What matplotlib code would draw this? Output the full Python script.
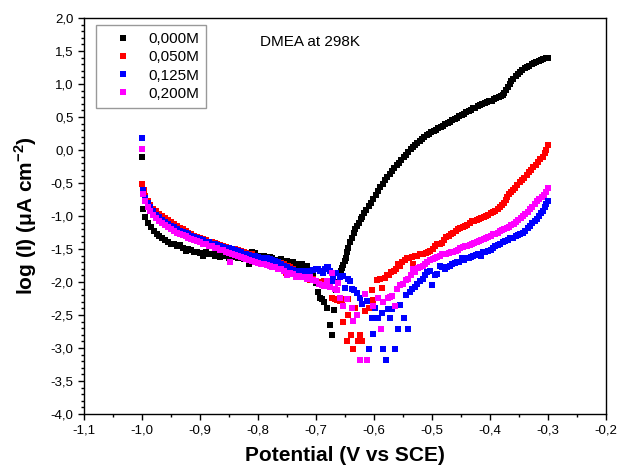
import matplotlib
matplotlib.use("Agg")
import matplotlib.pyplot as plt
from matplotlib.ticker import MultipleLocator, FuncFormatter

plt.rcParams['font.family'] = ['Liberation Sans', 'DejaVu Sans']
plt.rcParams['mathtext.fontset'] = 'custom'
plt.rcParams['mathtext.rm'] = 'Liberation Sans:bold'
plt.rcParams['mathtext.bf'] = 'Liberation Sans:bold'

labels = ["0,000M", "0,050M", "0,125M", "0,200M"]
colors = ["#000000", "#FF0000", "#0000FF", "#FF00FF"]

# 0,000M
x_000 = [-1.000, -0.998, -0.995, -0.990, -0.985, -0.980, -0.975, -0.970, -0.965, -0.960,
         -0.955, -0.950, -0.945, -0.940, -0.935, -0.930, -0.925, -0.920, -0.915, -0.910,
         -0.905, -0.900, -0.895, -0.890, -0.885, -0.880, -0.875, -0.870, -0.865, -0.860,
         -0.855, -0.850, -0.845, -0.840, -0.835, -0.830, -0.825, -0.820, -0.815, -0.810,
         -0.805, -0.800, -0.795, -0.790, -0.785, -0.780, -0.775, -0.770, -0.765, -0.760,
         -0.755, -0.750, -0.745, -0.740, -0.735, -0.730, -0.725, -0.720, -0.715, -0.710,
         -0.705, -0.700, -0.697, -0.693, -0.690, -0.686, -0.681, -0.676, -0.672, -0.669,
         -0.666, -0.662, -0.659, -0.657, -0.655, -0.653, -0.650, -0.648, -0.646, -0.644,
         -0.641, -0.638, -0.635, -0.632, -0.629, -0.626, -0.623, -0.620, -0.617, -0.613,
         -0.609, -0.605, -0.601, -0.597, -0.593, -0.589, -0.585, -0.581, -0.577, -0.573,
         -0.569, -0.565, -0.561, -0.557, -0.553, -0.549, -0.545, -0.541, -0.537, -0.533,
         -0.529, -0.525, -0.521, -0.517, -0.513, -0.509, -0.505, -0.501, -0.497, -0.493,
         -0.489, -0.485, -0.481, -0.477, -0.473, -0.469, -0.465, -0.461, -0.457, -0.453,
         -0.449, -0.445, -0.441, -0.437, -0.433, -0.429, -0.425, -0.421, -0.417, -0.413,
         -0.409, -0.405, -0.401, -0.397, -0.393, -0.389, -0.385, -0.381, -0.378, -0.375,
         -0.372, -0.369, -0.366, -0.363, -0.360, -0.356, -0.352, -0.348, -0.344, -0.340,
         -0.336, -0.332, -0.328, -0.324, -0.320, -0.316, -0.312, -0.308, -0.304, -0.300]
y_000 = [-0.11, -0.89, -1.02, -1.10, -1.17, -1.22, -1.27, -1.31, -1.34, -1.37,
         -1.40, -1.42, -1.43, -1.45, -1.44, -1.48, -1.53, -1.50, -1.51, -1.54,
         -1.55, -1.56, -1.60, -1.55, -1.58, -1.57, -1.60, -1.58, -1.62, -1.59,
         -1.61, -1.63, -1.60, -1.62, -1.64, -1.61, -1.65, -1.62, -1.72, -1.55,
         -1.56, -1.60, -1.63, -1.61, -1.65, -1.62, -1.64, -1.66, -1.68, -1.65,
         -1.70, -1.68, -1.72, -1.70, -1.73, -1.74, -1.72, -1.76, -1.75, -1.82,
         -1.90, -2.02, -2.15, -2.24, -2.26, -2.30, -2.39, -2.65, -2.80, -2.42,
         -2.12, -2.00, -1.90, -1.84, -1.79, -1.74, -1.68, -1.63, -1.55, -1.48,
         -1.40, -1.33, -1.26, -1.20, -1.15, -1.10, -1.05, -1.01, -0.96, -0.91,
         -0.85, -0.80, -0.74, -0.68, -0.62, -0.56, -0.51, -0.46, -0.41, -0.37,
         -0.32, -0.27, -0.23, -0.19, -0.15, -0.11, -0.07, -0.03, 0.01, 0.05,
         0.08, 0.11, 0.14, 0.17, 0.19, 0.22, 0.24, 0.27, 0.29, 0.31,
         0.33, 0.35, 0.37, 0.39, 0.41, 0.43, 0.45, 0.47, 0.49, 0.51,
         0.53, 0.55, 0.57, 0.59, 0.61, 0.63, 0.64, 0.66, 0.68, 0.69,
         0.71, 0.72, 0.74, 0.75, 0.77, 0.79, 0.80, 0.82, 0.84, 0.87,
         0.91, 0.96, 1.00, 1.04, 1.08, 1.12, 1.15, 1.18, 1.21, 1.24,
         1.26, 1.28, 1.30, 1.32, 1.34, 1.35, 1.37, 1.38, 1.39, 1.40]

# 0,050M
x_050 = [-1.000, -0.997, -0.994, -0.990, -0.986, -0.981, -0.976, -0.970, -0.965, -0.960,
         -0.955, -0.950, -0.945, -0.940, -0.935, -0.930, -0.925, -0.920, -0.915, -0.910,
         -0.905, -0.900, -0.895, -0.890, -0.885, -0.880, -0.875, -0.870, -0.865, -0.860,
         -0.855, -0.850, -0.845, -0.840, -0.835, -0.830, -0.825, -0.820, -0.815, -0.810,
         -0.805, -0.800, -0.795, -0.790, -0.785, -0.780, -0.775, -0.770, -0.765, -0.760,
         -0.755, -0.752, -0.748, -0.745, -0.740, -0.735, -0.730, -0.725, -0.720, -0.715,
         -0.710, -0.705, -0.700, -0.695, -0.690, -0.686, -0.681, -0.676, -0.672, -0.668,
         -0.664, -0.659, -0.655, -0.650, -0.645, -0.653, -0.647, -0.645, -0.640, -0.636,
         -0.633, -0.628, -0.624, -0.621, -0.616, -0.609, -0.603, -0.602, -0.595, -0.590,
         -0.586, -0.581, -0.578, -0.574, -0.570, -0.566, -0.562, -0.559, -0.555, -0.551,
         -0.547, -0.543, -0.539, -0.534, -0.533, -0.530, -0.526, -0.521, -0.516, -0.511,
         -0.507, -0.503, -0.499, -0.495, -0.491, -0.487, -0.483, -0.479, -0.475, -0.471,
         -0.467, -0.463, -0.459, -0.455, -0.451, -0.447, -0.443, -0.439, -0.435, -0.431,
         -0.427, -0.423, -0.419, -0.415, -0.411, -0.407, -0.403, -0.399, -0.395, -0.391,
         -0.387, -0.383, -0.379, -0.376, -0.373, -0.370, -0.367, -0.364, -0.361, -0.357,
         -0.353, -0.349, -0.345, -0.341, -0.337, -0.333, -0.329, -0.325, -0.321, -0.317,
         -0.313, -0.309, -0.306, -0.303, -0.300]
y_050 = [-0.52, -0.60, -0.70, -0.77, -0.83, -0.89, -0.93, -0.97, -1.00, -1.03,
         -1.06, -1.09, -1.12, -1.15, -1.18, -1.20, -1.23, -1.26, -1.28, -1.30,
         -1.32, -1.34, -1.35, -1.37, -1.39, -1.40, -1.41, -1.43, -1.44, -1.46,
         -1.47, -1.49, -1.50, -1.50, -1.52, -1.53, -1.55, -1.56, -1.58, -1.58,
         -1.60, -1.62, -1.63, -1.65, -1.64, -1.66, -1.67, -1.68, -1.69, -1.71,
         -1.73, -1.86, -1.76, -1.78, -1.80, -1.86, -1.84, -1.87, -1.89, -1.92,
         -1.97, -1.95, -1.99, -2.01, -2.00, -1.98, -2.03, -1.98, -2.24, -2.26,
         -2.28, -2.29, -2.27, -2.26, -2.26, -2.60, -2.89, -2.50, -2.80, -3.01,
         -2.39, -2.89, -2.80, -2.89, -2.44, -2.39, -2.12, -2.27, -1.97, -1.96,
         -2.09, -1.94, -1.89, -1.89, -1.85, -1.83, -1.80, -1.72, -1.76, -1.70,
         -1.67, -1.63, -1.64, -1.62, -1.72, -1.61, -1.60, -1.58, -1.57, -1.56,
         -1.55, -1.53, -1.50, -1.46, -1.43, -1.42, -1.41, -1.37, -1.32, -1.30,
         -1.28, -1.25, -1.22, -1.20, -1.18, -1.17, -1.15, -1.13, -1.10, -1.08,
         -1.07, -1.06, -1.04, -1.03, -1.01, -1.00, -0.98, -0.96, -0.94, -0.92,
         -0.90, -0.87, -0.84, -0.80, -0.76, -0.71, -0.67, -0.63, -0.60, -0.57,
         -0.53, -0.49, -0.46, -0.42, -0.38, -0.34, -0.30, -0.26, -0.22, -0.18,
         -0.14, -0.10, -0.05, 0.00, 0.07]

# 0,125M
x_125 = [-1.000, -0.998, -0.994, -0.990, -0.986, -0.981, -0.976, -0.970, -0.965, -0.960,
         -0.955, -0.950, -0.945, -0.940, -0.935, -0.930, -0.925, -0.920, -0.915, -0.910,
         -0.905, -0.900, -0.895, -0.890, -0.885, -0.880, -0.875, -0.870, -0.865, -0.860,
         -0.855, -0.850, -0.845, -0.840, -0.835, -0.830, -0.826, -0.820, -0.815, -0.810,
         -0.805, -0.800, -0.795, -0.790, -0.785, -0.779, -0.775, -0.770, -0.765, -0.760,
         -0.755, -0.750, -0.745, -0.740, -0.735, -0.730, -0.725, -0.720, -0.715, -0.710,
         -0.705, -0.700, -0.697, -0.693, -0.688, -0.684, -0.681, -0.679, -0.675, -0.671,
         -0.671, -0.665, -0.659, -0.655, -0.653, -0.650, -0.645, -0.641, -0.638, -0.634,
         -0.629, -0.624, -0.621, -0.612, -0.609, -0.603, -0.602, -0.598, -0.593, -0.586,
         -0.584, -0.579, -0.576, -0.572, -0.569, -0.564, -0.559, -0.555, -0.548, -0.541,
         -0.545, -0.538, -0.534, -0.530, -0.526, -0.521, -0.516, -0.512, -0.509, -0.503,
         -0.500, -0.495, -0.491, -0.486, -0.482, -0.478, -0.474, -0.469, -0.465, -0.461,
         -0.457, -0.453, -0.449, -0.445, -0.441, -0.437, -0.433, -0.429, -0.424, -0.420,
         -0.416, -0.412, -0.408, -0.403, -0.399, -0.395, -0.391, -0.386, -0.382, -0.378,
         -0.374, -0.369, -0.365, -0.360, -0.356, -0.352, -0.348, -0.343, -0.339, -0.335,
         -0.331, -0.327, -0.323, -0.319, -0.315, -0.312, -0.309, -0.306, -0.303, -0.300]
y_125 = [0.18, -0.61, -0.72, -0.80, -0.87, -0.93, -0.98, -1.02, -1.06, -1.09,
         -1.12, -1.15, -1.17, -1.20, -1.22, -1.24, -1.26, -1.28, -1.30, -1.32,
         -1.33, -1.35, -1.37, -1.39, -1.40, -1.42, -1.43, -1.44, -1.46, -1.47,
         -1.48, -1.49, -1.50, -1.52, -1.53, -1.55, -1.57, -1.58, -1.59, -1.60,
         -1.61, -1.62, -1.63, -1.64, -1.64, -1.65, -1.67, -1.68, -1.70, -1.72,
         -1.75, -1.78, -1.80, -1.82, -1.84, -1.86, -1.84, -1.83, -1.84, -1.86,
         -1.82, -1.81, -1.80, -1.83, -1.86, -1.80, -1.78, -1.78, -1.84, -1.91,
         -1.98, -1.87, -1.92, -1.91, -1.91, -2.09, -1.95, -1.98, -2.10, -2.12,
         -2.16, -2.24, -2.33, -2.29, -3.01, -2.54, -2.79, -2.39, -2.54, -2.47,
         -3.01, -3.18, -2.41, -2.54, -2.41, -3.01, -2.71, -2.35, -2.54, -2.71,
         -2.20, -2.15, -2.11, -2.07, -2.03, -1.98, -1.95, -1.90, -1.85, -1.83,
         -2.05, -1.90, -1.88, -1.75, -1.78, -1.80, -1.78, -1.75, -1.73, -1.71,
         -1.70, -1.69, -1.63, -1.66, -1.64, -1.63, -1.62, -1.60, -1.59, -1.58,
         -1.60, -1.55, -1.54, -1.53, -1.51, -1.49, -1.46, -1.44, -1.42, -1.40,
         -1.38, -1.36, -1.34, -1.33, -1.31, -1.29, -1.27, -1.25, -1.22, -1.18,
         -1.15, -1.11, -1.07, -1.04, -1.00, -0.96, -0.92, -0.87, -0.82, -0.77]

# 0,200M
x_200 = [-1.000, -0.998, -0.994, -0.990, -0.986, -0.981, -0.976, -0.970, -0.965, -0.960,
         -0.955, -0.950, -0.945, -0.940, -0.935, -0.930, -0.925, -0.920, -0.915, -0.910,
         -0.905, -0.900, -0.895, -0.890, -0.885, -0.880, -0.875, -0.870, -0.865, -0.860,
         -0.855, -0.850, -0.848, -0.845, -0.840, -0.835, -0.830, -0.825, -0.820, -0.815,
         -0.810, -0.805, -0.800, -0.795, -0.790, -0.785, -0.780, -0.775, -0.770, -0.765,
         -0.760, -0.755, -0.750, -0.745, -0.740, -0.735, -0.730, -0.725, -0.720, -0.715,
         -0.710, -0.705, -0.700, -0.695, -0.690, -0.686, -0.681, -0.676, -0.672, -0.668,
         -0.664, -0.662, -0.659, -0.653, -0.647, -0.638, -0.636, -0.629, -0.624, -0.616,
         -0.612, -0.602, -0.593, -0.588, -0.584, -0.576, -0.572, -0.569, -0.564, -0.560,
         -0.555, -0.550, -0.545, -0.541, -0.536, -0.533, -0.529, -0.524, -0.520, -0.516,
         -0.512, -0.508, -0.503, -0.499, -0.495, -0.491, -0.487, -0.483, -0.479, -0.475,
         -0.471, -0.467, -0.463, -0.459, -0.455, -0.451, -0.447, -0.443, -0.439, -0.435,
         -0.431, -0.427, -0.423, -0.419, -0.415, -0.411, -0.407, -0.403, -0.399, -0.395,
         -0.391, -0.387, -0.383, -0.379, -0.375, -0.371, -0.367, -0.363, -0.359, -0.355,
         -0.351, -0.347, -0.343, -0.339, -0.335, -0.331, -0.327, -0.323, -0.319, -0.315,
         -0.311, -0.307, -0.303, -0.300]
y_200 = [0.01, -0.66, -0.78, -0.86, -0.92, -0.98, -1.03, -1.08, -1.11, -1.14,
         -1.17, -1.20, -1.22, -1.25, -1.27, -1.29, -1.31, -1.33, -1.35, -1.37,
         -1.38, -1.40, -1.42, -1.43, -1.45, -1.46, -1.48, -1.49, -1.51, -1.52,
         -1.54, -1.56, -1.70, -1.57, -1.59, -1.60, -1.62, -1.64, -1.65, -1.66,
         -1.68, -1.69, -1.71, -1.72, -1.73, -1.74, -1.76, -1.77, -1.78, -1.80,
         -1.81, -1.83, -1.90, -1.86, -1.88, -1.92, -1.91, -1.93, -1.92, -1.95,
         -1.93, -1.97, -1.99, -2.03, -2.05, -2.06, -1.98, -2.07, -1.86, -2.10,
         -2.12, -2.01, -2.24, -2.36, -2.26, -2.39, -2.59, -2.50, -3.18, -2.18,
         -3.18, -2.36, -2.24, -2.71, -2.31, -2.24, -2.22, -2.21, -2.36, -2.10,
         -2.05, -2.03, -1.97, -1.95, -1.90, -1.80, -1.85, -1.79, -1.77, -1.75,
         -1.72, -1.70, -1.67, -1.65, -1.64, -1.62, -1.60, -1.58, -1.57, -1.57,
         -1.56, -1.55, -1.54, -1.53, -1.51, -1.49, -1.47, -1.46, -1.45, -1.44,
         -1.42, -1.41, -1.40, -1.38, -1.37, -1.35, -1.34, -1.32, -1.30, -1.28,
         -1.27, -1.25, -1.23, -1.21, -1.20, -1.18, -1.16, -1.14, -1.12, -1.09,
         -1.06, -1.03, -1.00, -0.97, -0.94, -0.90, -0.86, -0.82, -0.78, -0.74,
         -0.71, -0.68, -0.64, -0.58]

xs = [x_000, x_050, x_125, x_200]
ys = [y_000, y_050, y_125, y_200]

fig = plt.figure(figsize=(6.18, 4.68), dpi=100)
ax = fig.add_axes([84 / 618, 1 - 414 / 468, 522 / 618, 396 / 468])

for x, y, c, lab in zip(xs, ys, colors, labels):
    ax.plot(x, y, linestyle='none', marker='s', markersize=3.9,
            markerfacecolor=c, markeredgewidth=0, color=c, label=lab)

ax.set_xlim(-1.1, -0.2)
ax.set_ylim(-4.0, 2.0)
ax.xaxis.set_major_locator(MultipleLocator(0.1))
ax.xaxis.set_minor_locator(MultipleLocator(0.05))
ax.yaxis.set_major_locator(MultipleLocator(0.5))
ax.yaxis.set_minor_locator(MultipleLocator(0.1))
fmt = FuncFormatter(lambda v, p: f"{v:.1f}".replace('.', ',').replace('-0,0', '0,0'))
ax.xaxis.set_major_formatter(fmt)
ax.yaxis.set_major_formatter(fmt)
ax.tick_params(which='both', direction='out', top=False, right=False, width=1)
ax.tick_params(which='major', length=4.5, labelsize=9.5, pad=3)
ax.tick_params(which='minor', length=2.5)
for s in ax.spines.values():
    s.set_linewidth(1.0)

ax.set_xlabel('Potential (V vs SCE)', fontsize=15, fontweight='bold', labelpad=7)
ax.set_ylabel('log (I) (μA cm$^{-2}$)', fontsize=15, fontweight='bold', labelpad=8)

ax.text(0.337, 0.94, 'DMEA at 298K', transform=ax.transAxes, fontsize=11,
        ha='left', va='center')

leg = ax.legend(loc='upper left', bbox_to_anchor=(0.023, 0.982), borderaxespad=0,
                fontsize=11, frameon=True, fancybox=False, edgecolor='#808080',
                handlelength=2.6, handletextpad=0.4, borderpad=0.45,
                labelspacing=0.28, markerscale=1.1)
leg.get_frame().set_linewidth(1.0)

fig.savefig('out.png', dpi=100)
